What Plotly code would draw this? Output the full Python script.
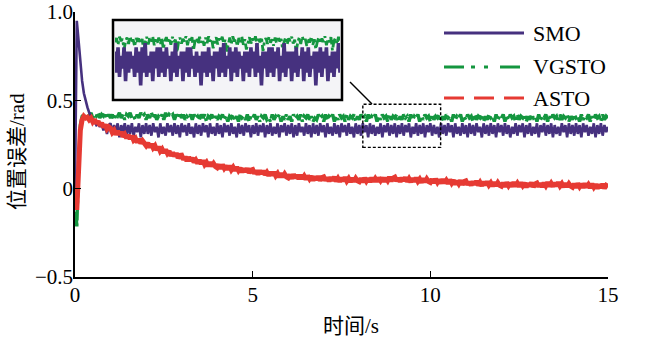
import numpy as np
import plotly.graph_objects as go

# ---------------------------------------------------------------
# Position error of three observers (SMO / VGSTO / ASTO), 0-15 s
# sampled every 0.05 s
# ---------------------------------------------------------------
t = np.round(np.arange(0, 15.0001, 0.05), 2)

smo = [
    0.00, 0.95, 0.84, 0.72, 0.61, 0.54, 0.49, 0.46, 0.43, 0.41, 0.39, 0.38, 0.36, 0.37, 0.35, 0.37, 0.33, 0.36, 0.31, 0.36,
    0.37, 0.31, 0.36, 0.32, 0.37, 0.29, 0.36, 0.32, 0.37, 0.30, 0.36, 0.31, 0.37, 0.30, 0.35, 0.32, 0.37, 0.29, 0.36, 0.31,
    0.37, 0.31, 0.36, 0.30, 0.37, 0.32, 0.35, 0.29, 0.37, 0.31, 0.35, 0.30, 0.37, 0.32, 0.36, 0.30, 0.37, 0.31, 0.36, 0.29,
    0.37, 0.32, 0.36, 0.30, 0.37, 0.31, 0.35, 0.29, 0.37, 0.31, 0.36, 0.30, 0.37, 0.32, 0.36, 0.29, 0.37, 0.31, 0.35, 0.30,
    0.37, 0.31, 0.36, 0.29, 0.37, 0.32, 0.36, 0.30, 0.37, 0.31, 0.35, 0.29, 0.37, 0.31, 0.36, 0.30, 0.37, 0.32, 0.36, 0.29,
    0.36, 0.31, 0.37, 0.30, 0.36, 0.32, 0.37, 0.29, 0.36, 0.31, 0.37, 0.30, 0.35, 0.31, 0.37, 0.29, 0.36, 0.32, 0.37, 0.30,
    0.36, 0.31, 0.37, 0.29, 0.36, 0.30, 0.37, 0.32, 0.35, 0.30, 0.37, 0.31, 0.36, 0.29, 0.37, 0.31, 0.36, 0.30, 0.37, 0.32,
    0.36, 0.29, 0.37, 0.31, 0.35, 0.30, 0.37, 0.31, 0.36, 0.29, 0.37, 0.32, 0.36, 0.30, 0.37, 0.31, 0.35, 0.29, 0.37, 0.31,
    0.36, 0.30, 0.37, 0.32, 0.36, 0.29, 0.37, 0.31, 0.36, 0.30, 0.35, 0.31, 0.37, 0.29, 0.36, 0.32, 0.37, 0.30, 0.36, 0.31,
    0.37, 0.29, 0.36, 0.31, 0.37, 0.30, 0.36, 0.32, 0.37, 0.29, 0.35, 0.31, 0.37, 0.30, 0.36, 0.31, 0.37, 0.29, 0.36, 0.32,
    0.37, 0.30, 0.36, 0.31, 0.35, 0.29, 0.37, 0.31, 0.36, 0.30, 0.37, 0.32, 0.36, 0.29, 0.37, 0.31, 0.35, 0.30, 0.37, 0.31,
    0.36, 0.29, 0.37, 0.31, 0.36, 0.30, 0.37, 0.32, 0.35, 0.29, 0.37, 0.31, 0.36, 0.30, 0.37, 0.31, 0.36, 0.29, 0.37, 0.32,
    0.36, 0.30, 0.37, 0.31, 0.36, 0.29, 0.35, 0.31, 0.37, 0.30, 0.36, 0.32, 0.37, 0.29, 0.36, 0.31, 0.37, 0.30, 0.35, 0.31,
    0.37, 0.29, 0.36, 0.32, 0.37, 0.30, 0.36, 0.31, 0.37, 0.29, 0.36, 0.31, 0.35, 0.30, 0.37, 0.32, 0.36, 0.29, 0.37, 0.31,
    0.36, 0.30, 0.37, 0.31, 0.36, 0.29, 0.37, 0.32, 0.36, 0.30, 0.35, 0.31, 0.37, 0.29, 0.36, 0.31, 0.37, 0.30, 0.36, 0.32,
    0.35,
]

vgsto = [
    0.00, -0.22, 0.15, 0.36, 0.41, 0.42, 0.40, 0.42, 0.41, 0.43, 0.40, 0.42, 0.41, 0.43, 0.40, 0.42, 0.41, 0.43, 0.40, 0.42,
    0.40, 0.42, 0.39, 0.42, 0.41, 0.43, 0.40, 0.42, 0.39, 0.42, 0.41, 0.43, 0.40, 0.41, 0.39, 0.42, 0.40, 0.43, 0.41, 0.42,
    0.39, 0.42, 0.40, 0.43, 0.40, 0.42, 0.39, 0.41, 0.40, 0.42, 0.39, 0.43, 0.40, 0.42, 0.41, 0.42, 0.39, 0.42, 0.40, 0.43,
    0.40, 0.42, 0.39, 0.41, 0.40, 0.42, 0.39, 0.42, 0.40, 0.41, 0.39, 0.42, 0.40, 0.42, 0.38, 0.41, 0.40, 0.42, 0.39, 0.41,
    0.39, 0.41, 0.40, 0.42, 0.39, 0.41, 0.38, 0.41, 0.40, 0.42, 0.39, 0.41, 0.38, 0.42, 0.40, 0.41, 0.39, 0.42, 0.38, 0.41,
    0.40, 0.42, 0.39, 0.41, 0.38, 0.41, 0.40, 0.42, 0.39, 0.40, 0.38, 0.42, 0.39, 0.41, 0.40, 0.42, 0.38, 0.41, 0.39, 0.42,
    0.39, 0.41, 0.38, 0.42, 0.40, 0.41, 0.39, 0.42, 0.38, 0.41, 0.40, 0.42, 0.39, 0.41, 0.38, 0.40, 0.39, 0.42, 0.40, 0.41,
    0.38, 0.42, 0.39, 0.41, 0.40, 0.42, 0.38, 0.41, 0.39, 0.42, 0.40, 0.41, 0.38, 0.42, 0.39, 0.41, 0.40, 0.42, 0.38, 0.41,
    0.39, 0.42, 0.40, 0.41, 0.38, 0.42, 0.39, 0.41, 0.40, 0.42, 0.38, 0.41, 0.39, 0.42, 0.40, 0.41, 0.38, 0.42, 0.39, 0.41,
    0.40, 0.42, 0.38, 0.41, 0.39, 0.42, 0.40, 0.41, 0.38, 0.42, 0.39, 0.41, 0.40, 0.42, 0.38, 0.41, 0.39, 0.42, 0.40, 0.41,
    0.38, 0.42, 0.39, 0.41, 0.40, 0.42, 0.38, 0.41, 0.39, 0.42, 0.40, 0.41, 0.38, 0.42, 0.39, 0.41, 0.40, 0.42, 0.38, 0.41,
    0.39, 0.42, 0.40, 0.41, 0.38, 0.42, 0.39, 0.41, 0.40, 0.42, 0.38, 0.41, 0.39, 0.42, 0.40, 0.41, 0.38, 0.42, 0.39, 0.41,
    0.40, 0.42, 0.38, 0.41, 0.39, 0.42, 0.40, 0.41, 0.38, 0.42, 0.39, 0.41, 0.40, 0.42, 0.38, 0.41, 0.39, 0.42, 0.40, 0.41,
    0.38, 0.42, 0.39, 0.41, 0.40, 0.42, 0.38, 0.41, 0.39, 0.42, 0.40, 0.41, 0.38, 0.42, 0.39, 0.41, 0.40, 0.42, 0.38, 0.41,
    0.39, 0.42, 0.40, 0.41, 0.38, 0.42, 0.39, 0.41, 0.40, 0.42, 0.38, 0.41, 0.39, 0.42, 0.40, 0.41, 0.38, 0.42, 0.39, 0.41,
    0.40,
]

asto = [
    0.000, -0.120, 0.100, 0.330, 0.390, 0.410, 0.400, 0.405, 0.390, 0.400, 0.378, 0.392, 0.368, 0.382, 0.358, 0.372, 0.348, 0.362, 0.338, 0.350,
    0.342, 0.318, 0.330, 0.306, 0.326, 0.305, 0.321, 0.294, 0.307, 0.286, 0.304, 0.282, 0.299, 0.275, 0.285, 0.262, 0.281, 0.257, 0.271, 0.253,
    0.244, 0.259, 0.234, 0.253, 0.231, 0.243, 0.218, 0.238, 0.212, 0.224, 0.203, 0.221, 0.200, 0.213, 0.186, 0.204, 0.184, 0.201, 0.174, 0.188,
    0.189, 0.165, 0.180, 0.157, 0.178, 0.158, 0.174, 0.149, 0.162, 0.143, 0.161, 0.141, 0.160, 0.137, 0.149, 0.128, 0.149, 0.127, 0.142, 0.126,
    0.119, 0.136, 0.113, 0.136, 0.116, 0.130, 0.107, 0.129, 0.107, 0.121, 0.102, 0.122, 0.103, 0.118, 0.093, 0.113, 0.095, 0.114, 0.089, 0.105,
    0.108, 0.086, 0.102, 0.080, 0.102, 0.084, 0.102, 0.078, 0.092, 0.074, 0.094, 0.075, 0.094, 0.073, 0.086, 0.066, 0.087, 0.066, 0.083, 0.067,
    0.061, 0.079, 0.057, 0.080, 0.061, 0.077, 0.055, 0.078, 0.056, 0.071, 0.053, 0.073, 0.056, 0.071, 0.047, 0.068, 0.051, 0.070, 0.046, 0.063,
    0.067, 0.046, 0.062, 0.042, 0.064, 0.047, 0.066, 0.042, 0.058, 0.040, 0.061, 0.043, 0.064, 0.043, 0.057, 0.038, 0.061, 0.041, 0.058, 0.044,
    0.039, 0.058, 0.037, 0.061, 0.043, 0.059, 0.038, 0.062, 0.041, 0.057, 0.041, 0.062, 0.046, 0.062, 0.040, 0.061, 0.046, 0.066, 0.043, 0.060,
    0.065, 0.044, 0.060, 0.040, 0.062, 0.045, 0.064, 0.040, 0.056, 0.038, 0.059, 0.041, 0.061, 0.041, 0.054, 0.035, 0.058, 0.037, 0.055, 0.040,
    0.035, 0.053, 0.032, 0.055, 0.036, 0.052, 0.030, 0.054, 0.032, 0.047, 0.030, 0.050, 0.032, 0.048, 0.024, 0.044, 0.028, 0.047, 0.023, 0.040,
    0.044, 0.023, 0.039, 0.019, 0.041, 0.024, 0.043, 0.019, 0.035, 0.017, 0.038, 0.020, 0.040, 0.020, 0.033, 0.014, 0.037, 0.016, 0.034, 0.019,
    0.014, 0.033, 0.012, 0.035, 0.017, 0.033, 0.012, 0.036, 0.014, 0.030, 0.013, 0.034, 0.017, 0.032, 0.009, 0.030, 0.014, 0.034, 0.010, 0.027,
    0.032, 0.012, 0.029, 0.010, 0.033, 0.017, 0.036, 0.014, 0.030, 0.013, 0.033, 0.015, 0.035, 0.015, 0.028, 0.009, 0.031, 0.011, 0.028, 0.014,
    0.008, 0.027, 0.005, 0.029, 0.011, 0.027, 0.005, 0.029, 0.008, 0.023, 0.006, 0.027, 0.009, 0.025, 0.002, 0.023, 0.006, 0.026, 0.003, 0.019,
    0.013,
]

# ---------------------------------------------------------------
# Detail window 8.2-10.3 s (finer sampling) for the inset
# ---------------------------------------------------------------
zoom_t0, zoom_t1 = 8.2, 10.3

smo_zoom = [
    0.38, 0.33, 0.39, 0.32, 0.37, 0.34, 0.39, 0.31, 0.38, 0.33, 0.38, 0.34, 0.37, 0.32, 0.39,
    0.33, 0.38, 0.30, 0.39, 0.33, 0.40, 0.32, 0.37, 0.33, 0.38, 0.31, 0.38, 0.34, 0.39, 0.32,
    0.39, 0.33, 0.38, 0.32, 0.39, 0.34, 0.37, 0.31, 0.38, 0.33, 0.40, 0.32, 0.37, 0.34, 0.38,
    0.31, 0.38, 0.33, 0.39, 0.32, 0.39, 0.34, 0.37, 0.32, 0.38, 0.33, 0.37, 0.30, 0.38, 0.33,
    0.38, 0.32, 0.39, 0.33, 0.37, 0.31, 0.38, 0.34, 0.38, 0.32, 0.39, 0.33, 0.40, 0.32, 0.37,
    0.34, 0.39, 0.31, 0.38, 0.33, 0.39, 0.32, 0.38, 0.34, 0.37, 0.31, 0.38, 0.33, 0.38, 0.32,
    0.39, 0.34, 0.38, 0.32, 0.40, 0.33, 0.37, 0.30, 0.38, 0.34, 0.38, 0.32, 0.39, 0.33, 0.39,
    0.32, 0.38, 0.34, 0.39, 0.31, 0.37, 0.33, 0.40, 0.32, 0.38, 0.34, 0.38, 0.31, 0.38, 0.33,
    0.39, 0.32, 0.37, 0.34, 0.39, 0.31, 0.38, 0.33, 0.39, 0.32, 0.37, 0.34, 0.38, 0.30, 0.38,
    0.33, 0.39, 0.32, 0.38, 0.34, 0.39, 0.31, 0.37, 0.33, 0.38, 0.32, 0.38, 0.34, 0.40, 0.33,
]

vgsto_zoom = [
    0.402, 0.412, 0.396, 0.415, 0.405, 0.410, 0.384, 0.404, 0.413, 0.398, 0.416, 0.401, 0.409, 0.392, 0.412,
    0.403, 0.414, 0.399, 0.410, 0.380, 0.402, 0.415, 0.397, 0.411, 0.404, 0.416, 0.395, 0.409, 0.401, 0.413,
    0.398, 0.411, 0.386, 0.405, 0.414, 0.400, 0.412, 0.396, 0.415, 0.403, 0.408, 0.378, 0.401, 0.413, 0.399,
    0.410, 0.404, 0.416, 0.395, 0.411, 0.402, 0.414, 0.383, 0.405, 0.412, 0.398, 0.415, 0.401, 0.409, 0.394,
    0.413, 0.400, 0.416, 0.404, 0.410, 0.388, 0.403, 0.414, 0.397, 0.411, 0.405, 0.415, 0.399, 0.408, 0.380,
    0.402, 0.413, 0.398, 0.416, 0.404, 0.410, 0.393, 0.412, 0.401, 0.415, 0.396, 0.409, 0.385, 0.404, 0.414,
    0.399, 0.411, 0.403, 0.416, 0.395, 0.410, 0.402, 0.414, 0.381, 0.405, 0.412, 0.398, 0.415, 0.401, 0.409,
    0.394, 0.413, 0.400, 0.416, 0.404, 0.410, 0.387, 0.403, 0.414, 0.397, 0.411, 0.405, 0.415, 0.399, 0.408,
    0.379, 0.402, 0.413, 0.398, 0.416, 0.404, 0.410, 0.393, 0.412, 0.401, 0.415, 0.396, 0.409, 0.386, 0.404,
    0.414, 0.399, 0.411, 0.403, 0.416, 0.395, 0.410, 0.402, 0.414, 0.383, 0.405, 0.412, 0.398, 0.415, 0.401,
]

x_ticks = [0, 5, 10, 15]
y_ticks = [-0.5, 0, 0.5, 1.0]
y_tick_text = ["\u22120.5", "0", "0.5", "1.0"]

names = ["SMO", "VGSTO", "ASTO"]
colors = {"SMO": "#46317f", "VGSTO": "#14963f", "ASTO": "#e63a33"}
legend_dash = {"SMO": "solid", "VGSTO": "20px,7px,4px,9px,4px,12px", "ASTO": "20px,10px"}

# ---------------------------------------------------------------
# Page geometry (pixels)
# ---------------------------------------------------------------
W, H = 646, 344
ML, MR, MT, MB = 75, 38, 12, 67
PW, PH = W - ML - MR, H - MT - MB


def px(xp):
    return (xp - ML) / PW


def py(yp):
    return (H - MB - yp) / PH


SERIF = "Liberation Serif, Noto Sans CJK SC, serif"

fig = go.Figure()

# main curves
fig.add_trace(go.Scatter(x=t, y=vgsto, mode="lines", name="VGSTO", showlegend=False,
                         line=dict(color=colors["VGSTO"], width=3.4, dash="14px,3px,3px,3px")))
fig.add_trace(go.Scatter(x=t, y=smo, mode="lines", name="SMO", showlegend=False,
                         line=dict(color=colors["SMO"], width=2.6)))
fig.add_trace(go.Scatter(x=t, y=asto, mode="lines", name="ASTO", showlegend=False,
                         line=dict(color=colors["ASTO"], width=5)))

# inset curves
tz_smo = np.linspace(zoom_t0, zoom_t1, len(smo_zoom))
tz_vg = np.linspace(zoom_t0, zoom_t1, len(vgsto_zoom))
fig.add_trace(go.Scatter(x=tz_vg, y=vgsto_zoom, mode="lines", showlegend=False,
                         xaxis="x2", yaxis="y2",
                         line=dict(color=colors["VGSTO"], width=2.8, dash="dashdot")))
fig.add_trace(go.Scatter(x=tz_smo, y=smo_zoom, mode="lines", showlegend=False,
                         xaxis="x2", yaxis="y2",
                         line=dict(color=colors["SMO"], width=3.6)))

shapes = []
annotations = []

# inset frame
ix0, iy0, ix1, iy1 = 113, 20, 342, 100
shapes.append(dict(type="rect", xref="paper", yref="paper",
                   x0=px(ix0), x1=px(ix1), y0=py(iy1), y1=py(iy0),
                   line=dict(color="black", width=2.5), fillcolor="#f4f4f7", layer="below"))

# zoom window marker and leader line
shapes.append(dict(type="rect", xref="x", yref="y", x0=8.10, x1=10.29, y0=0.234, y1=0.478,
                   line=dict(color="black", width=1.4, dash="3px,2px")))
shapes.append(dict(type="line", xref="paper", yref="paper",
                   x0=px(350), y0=py(82), x1=px(372), y1=py(104),
                   line=dict(color="black", width=1.4)))

# legend drawn by hand
legend_y = {"SMO": 33, "VGSTO": 67, "ASTO": 98}
for n in names:
    yy = py(legend_y[n])
    shapes.append(dict(type="line", xref="paper", yref="paper",
                       x0=px(444), x1=px(524), y0=yy, y1=yy,
                       line=dict(color=colors[n], width=3, dash=legend_dash[n])))
    annotations.append(dict(text=n, xref="paper", yref="paper", x=px(531), y=yy,
                            xanchor="left", yanchor="middle", showarrow=False,
                            font=dict(family=SERIF, size=22, color="black")))

# axis titles
annotations.append(dict(text="时间/s", xref="paper", yref="paper", x=px(351), y=py(326),
                        xanchor="center", yanchor="middle", showarrow=False,
                        font=dict(family=SERIF, size=21, color="black")))
annotations.append(dict(text="位置误差/rad", xref="paper", yref="paper", x=px(17), y=py(152),
                        xanchor="center", yanchor="middle", showarrow=False, textangle=-90,
                        font=dict(family=SERIF, size=21, color="black")))

fig.update_layout(
    width=W, height=H,
    margin=dict(l=ML, r=MR, t=MT, b=MB, pad=0),
    paper_bgcolor="white",
    plot_bgcolor="rgba(0,0,0,0)",
    showlegend=False,
    shapes=shapes,
    annotations=annotations,
    font=dict(family=SERIF, size=21, color="black"),
    xaxis=dict(range=[0, 15], tickvals=x_ticks, ticks="inside", ticklen=6, tickwidth=1.3,
               tickcolor="black", showline=True, linecolor="black", linewidth=1.5,
               showgrid=False, zeroline=False, tickfont=dict(family=SERIF, size=21),
               ticklabelstandoff=-2, automargin=False),
    yaxis=dict(range=[-0.5, 1.0], tickvals=y_ticks, ticktext=y_tick_text, ticks="inside",
               ticklen=6, tickwidth=1.3, tickcolor="black", showline=True, linecolor="black",
               linewidth=1.5, showgrid=False, zeroline=False,
               tickfont=dict(family=SERIF, size=21), ticklabelstandoff=-4, automargin=False),
    xaxis2=dict(domain=[px(ix0 + 2), px(ix1 - 2)], anchor="y2", range=[zoom_t0, zoom_t1],
                visible=False, showgrid=False, zeroline=False),
    yaxis2=dict(domain=[py(iy1 - 2), py(iy0 + 2)], anchor="x2", range=[0.27, 0.45],
                visible=False, showgrid=False, zeroline=False),
)

fig.write_html("out.html")
